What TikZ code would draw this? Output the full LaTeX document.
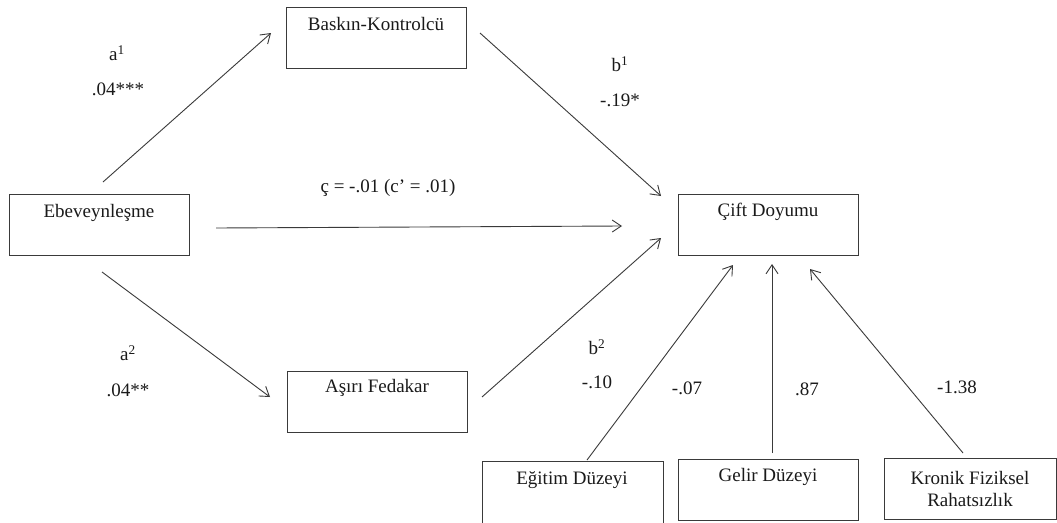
\documentclass[tikz,border=0pt]{standalone}
\usepackage{fontspec}
\setmainfont{Liberation Serif}
\usetikzlibrary{arrows.meta}
\definecolor{linecol}{HTML}{3A3A3A}
\definecolor{txtcol}{HTML}{1A1A1A}
\tikzset{
  box/.style={draw=linecol, line width=1pt, rectangle, minimum width=180pt, minimum height=61pt, inner sep=0pt},
  lbl/.style={text=txtcol, font=\fontsize{19}{22}\selectfont, inner sep=0pt, align=center},
  arr/.style={draw=linecol, line width=0.9pt, -{Straight Barb[length=9pt,width=12pt,line width=0.9pt]}}
}
\begin{document}
\begin{tikzpicture}[x=1pt,y=-1pt]
\clip (0,0) rectangle (1057,522);
\fill[white] (0,0) rectangle (1057,522);
% boxes
\node[box] (bk) at (376,38) {};
\node[box] (eb) at (99,225) {};
\node[box] (cd) at (768,224.5) {};
\node[box] (af) at (377,402) {};
\node[box, minimum width=181pt, minimum height=70pt] (ed) at (572.5,496) {};
\node[box] (gd) at (768,490) {};
\node[box, minimum width=172pt] (kf) at (970,489) {};
% box texts
\node[lbl] (bkt) at (376,24) {Baskın-Kontrolcü};
\node[lbl] (ebt) at (99,213) {Ebeveynleşme};
\node[lbl] (cdt) at (768,212) {Çift Doyumu};
\node[lbl] (aft) at (377,388) {Aşırı Fedakar};
\node[lbl] (edt) at (572,480) {Eğitim Düzeyi};
\node[lbl] (gdt) at (768,477) {Gelir Düzeyi};
\node[lbl] (kft) at (970,489) {Kronik Fiziksel\\Rahatsızlık};
% arrow endpoints
\coordinate (a1s) at (103,182);
\coordinate (a1e) at (271,33);
\coordinate (b1s) at (480,33);
\coordinate (b1e) at (661,196);
\coordinate (cs) at (216,228);
\coordinate (ce) at (622,226);
\coordinate (a2s) at (102,272);
\coordinate (a2e) at (270,397);
\coordinate (b2s) at (482,397);
\coordinate (b2e) at (661,238);
\coordinate (e1s) at (587,460);
\coordinate (e1e) at (733,265);
\coordinate (g1s) at (772,453);
\coordinate (g1e) at (772,264);
\coordinate (k1s) at (963,453);
\coordinate (k1e) at (810,269);
% arrows
\draw[arr] (a1s) -- (a1e);
\draw[arr] (b1s) -- (b1e);
\draw[arr] (cs) -- (ce);
\draw[arr] (a2s) -- (a2e);
\draw[arr] (b2s) -- (b2e);
\draw[arr] (e1s) -- (e1e);
\draw[arr] (g1s) -- (g1e);
\draw[arr] (k1s) -- (k1e);
% labels
\node[lbl] (la1) at (117,53) {a\textsuperscript{1}};
\node[lbl] (va1) at (118,89) {.04***};
\node[lbl] (lb1) at (620,64) {b\textsuperscript{1}};
\node[lbl] (vb1) at (620,100) {-.19*};
\node[lbl] (lc) at (388,188) {ç = -.01 (c’ = .01)};
\node[lbl] (la2) at (128,353) {a\textsuperscript{2}};
\node[lbl] (va2) at (128,390) {.04**};
\node[lbl] (lb2) at (597,347) {b\textsuperscript{2}};
\node[lbl] (vb2) at (597,382) {-.10};
\node[lbl] (ve) at (687,388) {-.07};
\node[lbl] (vg) at (807,389) {.87};
\node[lbl] (vk) at (957,387) {-1.38};
\end{tikzpicture}
\end{document}
